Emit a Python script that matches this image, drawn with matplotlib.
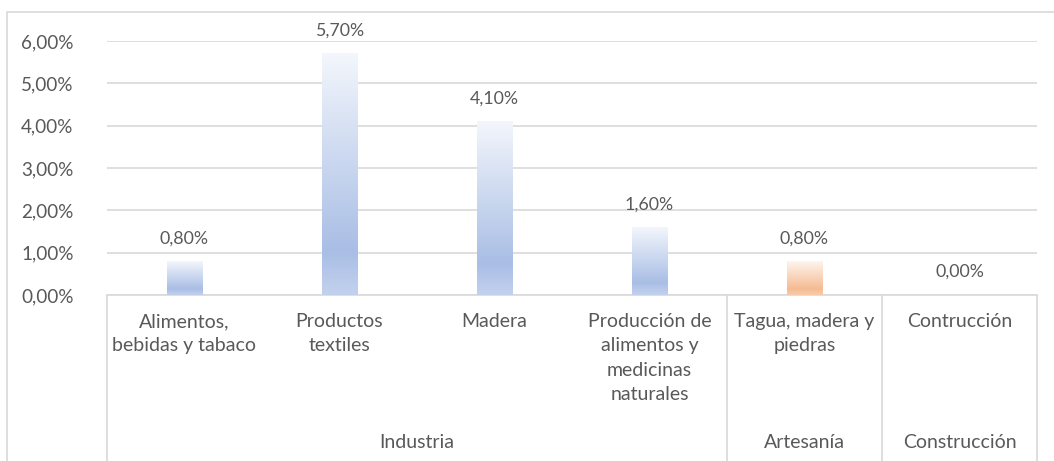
import numpy as np
import matplotlib
matplotlib.use('Agg')
import matplotlib.pyplot as plt
from matplotlib.colors import LinearSegmentedColormap
from matplotlib.patches import Rectangle
from matplotlib.ticker import FuncFormatter
from matplotlib.transforms import ScaledTranslation

plt.rcParams['font.family'] = ['Lato', 'DejaVu Sans']

# datos
categorias = ['Alimentos,\nbebidas y tabaco', 'Productos\ntextiles', 'Madera',
              'Producción de\nalimentos y\nmedicinas\nnaturales', 'Tagua, madera y\npiedras',
              'Contrucción']
valores = [0.008, 0.057, 0.041, 0.016, 0.008, 0.0]
grupos = ['Industria', 'Artesanía', 'Construcción']
grupo_tam = [4, 1, 1]
colores_bar = ['azul', 'azul', 'azul', 'azul', 'naranja', 'azul']

gris = '#595959'
linea = '#D9D9D9'

W, H = 1054, 461
fig = plt.figure(figsize=(W / 100, H / 100), dpi=100)
ax_l, ax_r, ax_t, ax_b = 107, 1037, 41, 295
ax = fig.add_axes([ax_l / W, (H - ax_b) / H, (ax_r - ax_l) / W, (ax_b - ax_t) / H])

cmaps = {
    'azul': LinearSegmentedColormap.from_list('azul', [(0, '#F3F6FC'), (0.82, '#A9BEE5'), (1, '#C3D1EE')]),
    'naranja': LinearSegmentedColormap.from_list('nar', [(0, '#FEF5EE'), (0.82, '#F5BB92'), (1, '#F8CBAA')]),
}

def pct(v):
    return '{:.2f}%'.format(v * 100).replace('.', ',')

x = np.arange(len(categorias))
ancho = 0.226
grad = np.linspace(0, 1, 256).reshape(-1, 1)
desplaz = ax.transData + ScaledTranslation(0, 23 / 100, fig.dpi_scale_trans)
for xi, v, c in zip(x, valores, colores_bar):
    if v > 0:
        ax.imshow(grad, cmap=cmaps[c], extent=[xi - ancho / 2, xi + ancho / 2, 0, v],
                  aspect='auto', origin='upper', zorder=3)
    ax.text(xi, v, pct(v), ha='center', va='center', fontsize=12.8, color=gris, transform=desplaz)

ax.set_xlim(-0.5, len(categorias) - 0.5)
ax.set_ylim(0, 0.06)
ax.set_yticks(np.arange(0, 0.061, 0.01))
ax.yaxis.set_major_formatter(FuncFormatter(lambda v, p: pct(v)))
ax.tick_params(axis='y', length=0, pad=24, labelsize=13.6, labelcolor=gris)
ax.set_xticks([])
ax.grid(axis='y', color=linea, lw=1.2, zorder=0)
ax.set_axisbelow(True)
for s in ['top', 'right', 'left']:
    ax.spines[s].set_visible(False)
ax.spines['bottom'].set_color(linea)
ax.spines['bottom'].set_linewidth(1.2)

trans = ax.get_xaxis_transform()
alto = ax_b - ax_t
for xi, lab in zip(x, categorias):
    ax.text(xi, (ax_b - 313) / alto, lab, ha='center', va='top',
            fontsize=14, color=gris, transform=trans, linespacing=1.52)

inicio = -0.5
for g, n in zip(grupos, grupo_tam):
    ax.text(inicio + n / 2, (ax_b - 442) / alto, g, ha='center', va='center', fontsize=14,
            color=gris, transform=trans)
    inicio += n

bordes = np.concatenate([[-0.5], -0.5 + np.cumsum(grupo_tam)])
for b in bordes:
    ax.plot([b, b], [0, (ax_b - H - 5) / alto], color=linea, lw=1.2, transform=trans, clip_on=False)

fig.add_artist(Rectangle((7 / W, -0.1), 1.0, (H - 12) / H + 0.1, transform=fig.transFigure,
                         fill=False, edgecolor=linea, lw=1.2))

fig.savefig('out.png', dpi=100)
